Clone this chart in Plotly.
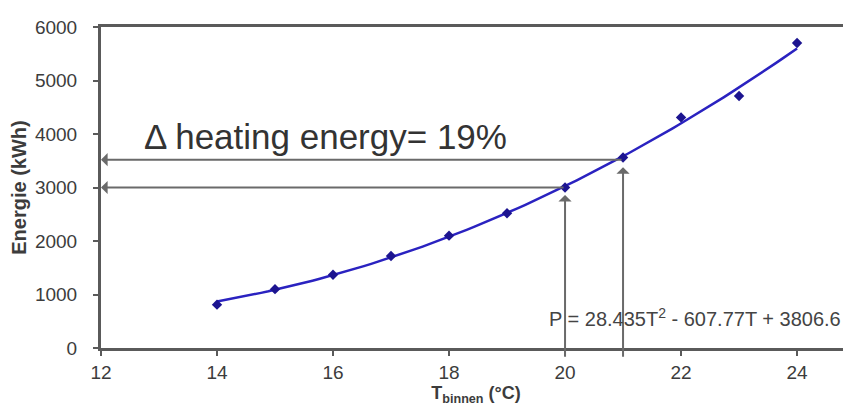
import numpy as np
import plotly.graph_objects as go

# Data
temps = [14, 15, 16, 17, 18, 19, 20, 21, 22, 23, 24]
energy = [810, 1100, 1370, 1720, 2100, 2520, 3000, 3560, 4310, 4710, 5700]
fit_coeffs = [28.435, -607.77, 3806.6]  # P = a*T^2 + b*T + c (shown on chart)
marked_temps = [20, 21]
marked_energy = [3000, 3520]
x_ticks = [12, 14, 16, 18, 20, 22, 24]
y_ticks = [0, 1000, 2000, 3000, 4000, 5000, 6000]
delta_label = "\u0394 heating energy= 19%"
eq_label = "P = 28.435T<sup>2</sup> - 607.77T + 3806.6"

FONT = "Arial, Liberation Sans, sans-serif"
AXIS_COLOR = "#5a5a5a"
ARROW_COLOR = "#6a6a6a"

t_fit = np.linspace(min(temps), max(temps), 80)
p_fit = np.polyval(fit_coeffs, t_fit)

fig = go.Figure()
fig.add_trace(go.Scatter(x=t_fit, y=p_fit, mode="lines",
                         line=dict(color="#2a22c0", width=2.5),
                         hoverinfo="skip", showlegend=False))
fig.add_trace(go.Scatter(x=temps, y=energy, mode="markers",
                         marker=dict(symbol="diamond", size=8, color="#1c1490"),
                         showlegend=False))

annotations = []
for t, e in zip(marked_temps, marked_energy):
    # horizontal arrow towards the y-axis
    annotations.append(dict(x=12, y=e, ax=t, ay=e, xref="x", yref="y",
                            axref="x", ayref="y", text="", showarrow=True,
                            arrowhead=1, arrowsize=1.1, arrowwidth=2,
                            arrowcolor=ARROW_COLOR))
    # vertical arrow up from below the x-axis
    annotations.append(dict(x=t, y=e - 140, ax=t, ay=-190, xref="x", yref="y",
                            axref="x", ayref="y", text="", showarrow=True,
                            arrowhead=1, arrowsize=1.1, arrowwidth=2,
                            arrowcolor=ARROW_COLOR))

annotations.append(dict(x=12.70, y=3950, xref="x", yref="y", text=delta_label,
                        showarrow=False, xanchor="left", yanchor="middle",
                        font=dict(family=FONT, size=35, color="#333333")))
annotations.append(dict(x=24.80, y=570, xref="x", yref="y", text=eq_label,
                        showarrow=False, xanchor="right", yanchor="middle",
                        font=dict(family=FONT, size=20, color="#444444")))

fig.update_layout(
    width=843, height=402,
    margin=dict(l=93, r=0, t=19, b=62),
    paper_bgcolor="white", plot_bgcolor="white",
    font=dict(family=FONT, color="#444444"),
    annotations=annotations,
    xaxis=dict(range=[12, 24.93], tickvals=x_ticks, showgrid=False, zeroline=False,
               showline=True, linecolor=AXIS_COLOR, linewidth=3, mirror=True,
               ticks="outside", ticklen=5, tickwidth=2, tickcolor=AXIS_COLOR,
               tickfont=dict(size=19, color="#3c3c3c"),
               title=dict(text="<b>T<sub>binnen</sub> (\u00b0C)</b>", standoff=2,
                          font=dict(size=18, color="#3c3c3c"))),
    yaxis=dict(range=[0, 6000], tickvals=y_ticks, showgrid=False, zeroline=False,
               showline=True, linecolor=AXIS_COLOR, linewidth=3,
               ticks="outside", ticklen=5, tickwidth=2, tickcolor=AXIS_COLOR,
               ticklabelstandoff=12,
               tickfont=dict(size=19, color="#3c3c3c"),
               title=dict(text="<b>Energie (kWh)</b>", standoff=5,
                          font=dict(size=20, color="#3c3c3c"))),
)

fig.write_html("out.html")
